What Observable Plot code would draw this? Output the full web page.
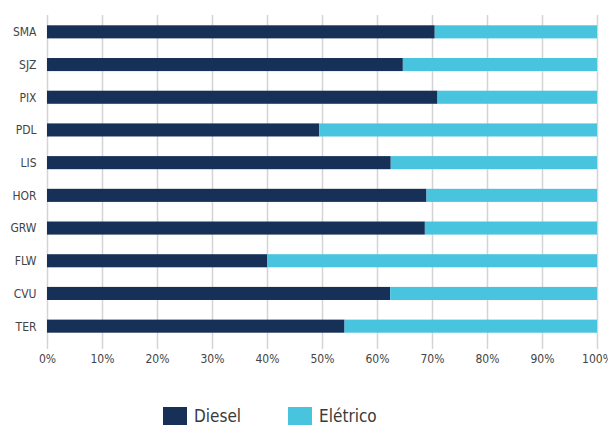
<!DOCTYPE html>
<html>
<head>
<meta charset="utf-8">
<script src="https://cdn.jsdelivr.net/npm/d3@7"></script>
<script src="https://cdn.jsdelivr.net/npm/@observablehq/plot@0.6"></script>
<style>
  body { margin: 0; background: #fff; font-family: "DejaVu Sans Condensed", "DejaVu Sans", sans-serif; }
  #legend { display: flex; gap: 0; padding-left: 163px; margin-top: 32px; align-items: center; }
  .item { display: flex; align-items: center; font-size: 17px; line-height: 19px; color: #3a3a3a; margin-right: 47px; }
  .sw { width: 24px; height: 19px; margin-right: 7px; }
</style>
</head>
<body>
<div id="chart"></div>
<div id="legend"></div>
<script>
const categories = ["SMA", "SJZ", "PIX", "PDL", "LIS", "HOR", "GRW", "FLW", "CVU", "TER"];
const diesel = [70.5, 64.7, 71.0, 49.5, 62.5, 69.0, 68.7, 40.0, 62.4, 54.1];
const eletrico = diesel.map(d => 100 - d);
const seriesNames = ["Diesel", "Elétrico"];
const colors = ["#173057", "#48C4DE"];
const xTicks = [0, 10, 20, 30, 40, 50, 60, 70, 80, 90, 100];

const data = [];
categories.forEach((c, i) => {
  data.push({cat: c, series: "Diesel", value: diesel[i]});
  data.push({cat: c, series: "Elétrico", value: eletrico[i]});
});

const chart = Plot.plot({
  width: 608,
  height: 375,
  marginLeft: 47,
  marginRight: 11,
  marginTop: 15,
  marginBottom: 32,
  style: {fontFamily: "DejaVu Sans Condensed, DejaVu Sans, sans-serif", fontSize: "12px", color: "#444", overflow: "visible"},
  x: {domain: [0, 100], ticks: xTicks, tickFormat: d => d + "%", label: null},
  y: {domain: categories, paddingInner: 0.6, paddingOuter: 0.315, round: false, label: null},
  color: {domain: seriesNames, range: colors},
  marks: [
    Plot.gridX(xTicks, {stroke: "#d4d4d4", strokeOpacity: 1, strokeWidth: 1.5}),
    Plot.axisX({ticks: xTicks, tickFormat: d => d + "%", tickSize: 6, stroke: "#d4d4d4", strokeWidth: 1.5, tickPadding: 5, label: null, fill: "#444"}),
    Plot.axisY({tickSize: 0, tickPadding: 11, label: null, fill: "#444"}),
    Plot.barX(data, Plot.stackX({x: "value", y: "cat", fill: "series", order: seriesNames}))
  ]
});
document.getElementById("chart").appendChild(chart);

const legend = document.getElementById("legend");
seriesNames.forEach((s, i) => {
  const item = document.createElement("div");
  item.className = "item";
  const sw = document.createElement("div");
  sw.className = "sw";
  sw.style.background = colors[i];
  const t = document.createElement("span");
  t.textContent = s;
  item.appendChild(sw);
  item.appendChild(t);
  legend.appendChild(item);
});
</script>
</body>
</html>
